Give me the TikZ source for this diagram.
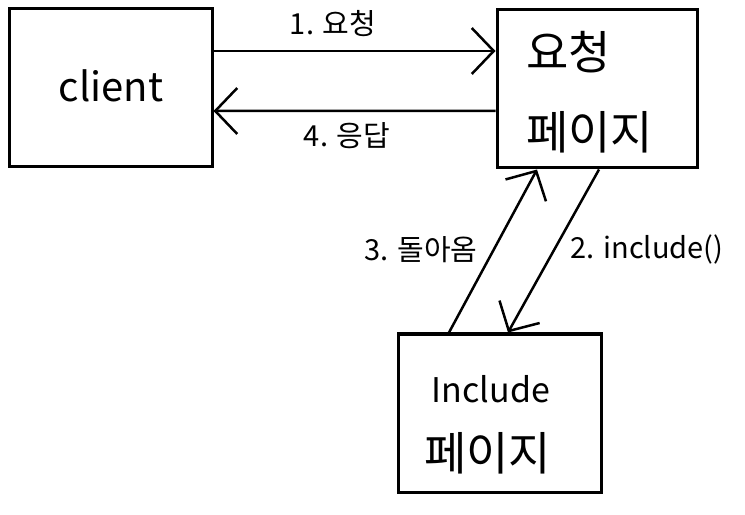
\documentclass[tikz,border=0pt]{standalone}
\usepackage{fontspec}
\setmainfont{Noto Sans CJK KR}
\usetikzlibrary{arrows.meta}
\tikzset{
  box/.style={draw, line width=3bp, inner sep=0pt},
  conn/.style={line width=2.5bp, -{Straight Barb[length=22bp,width=46bp,line width=2.5bp]}},
  lbl/.style={inner sep=0pt, font=\fontsize{29bp}{34bp}\selectfont},
  big/.style={inner sep=0pt, font=\fontsize{40bp}{46bp}\selectfont},
  mid/.style={inner sep=0pt, font=\fontsize{34bp}{40bp}\selectfont},
  hbig/.style={inner sep=0pt, font=\fontsize{46bp}{52bp}\selectfont}
}
\begin{document}
\begin{tikzpicture}[x=1bp,y=-1bp]
\useasboundingbox (0,0) rectangle (745,515);
\node[box, minimum width=202bp, minimum height=158bp] (client) at (111,88) {};
\node[box, minimum width=200bp, minimum height=158bp] (req) at (597,89) {};
\node[box, minimum width=203bp, minimum height=158bp] (inc) at (499.5,413) {};
\node[big] (clienttxt) at (111,86) {client};
\node[hbig, anchor=west] (req1) at (526,52) {요청};
\node[hbig, anchor=west] (req2) at (526,132) {페이지};
\node[mid] (inc1) at (491,389) {Include};
\node[hbig] (inc2) at (487.5,453) {페이지};
\draw[conn] ([yshift=37bp]client.east) -- ([yshift=38bp]req.west);
\draw[conn] ([yshift=-22bp]req.west) -- ([yshift=-23bp]client.east);
\draw[conn] ([xshift=2bp]req.south) -- ([xshift=8.5bp]inc.north);
\draw[conn] ([xshift=-50.5bp]inc.north) -- ([xshift=-60bp]req.south);
\node[lbl] (l1) at (333,24) {1. 요청};
\node[lbl] (l4) at (347,136) {4. 응답};
\node[lbl] (l3) at (421,250) {3. 돌아옴};
\node[lbl] (l2) at (647,249) {2. include()};
\end{tikzpicture}
\end{document}
